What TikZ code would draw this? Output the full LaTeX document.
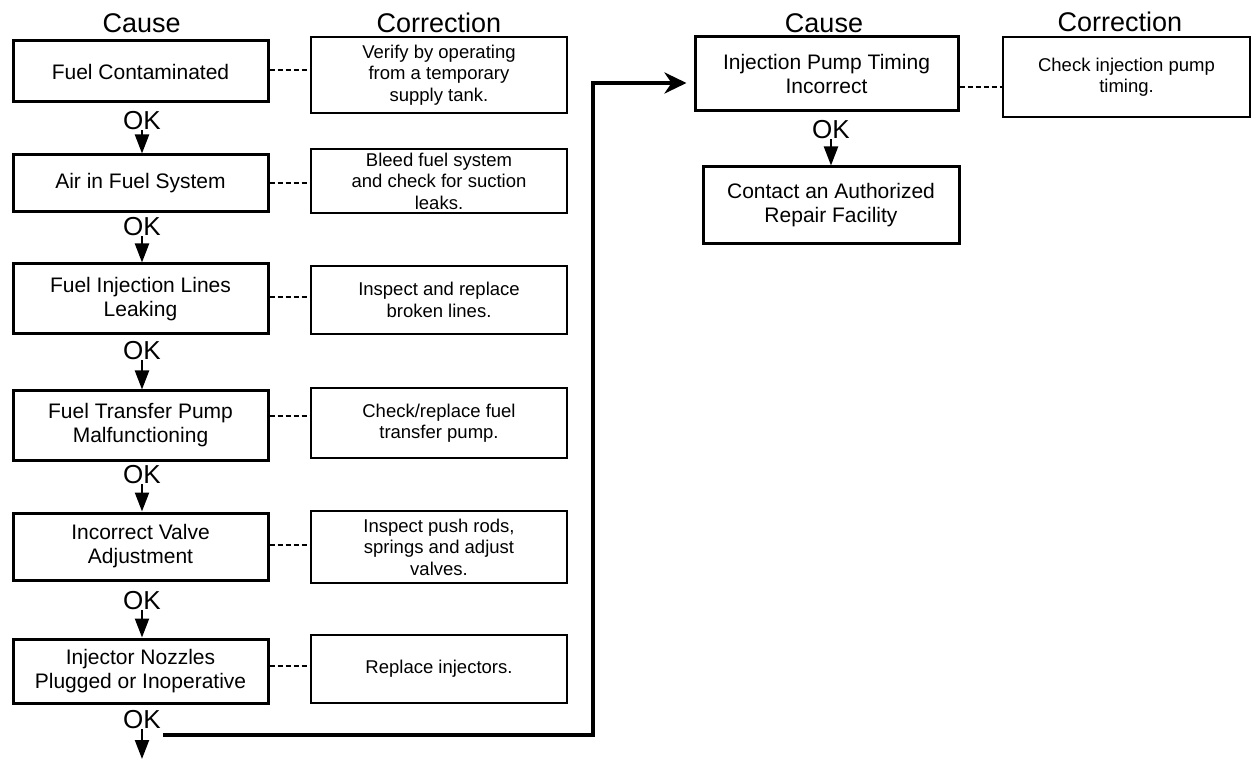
\documentclass[tikz,border=0pt]{standalone}
\usepackage{fontspec}
\setmainfont{Liberation Sans}
\usetikzlibrary{arrows.meta}
\begin{document}
\begin{tikzpicture}[x=1pt,y=-1pt,
 causebox/.style={draw, line width=3pt, inner sep=0pt, align=center, font=\fontsize{21}{24}\selectfont},
 corrbox/.style={draw, line width=2.5pt, inner sep=0pt, align=center, minimum width=256pt, font=\fontsize{18.5}{21.5}\selectfont},
 headlbl/.style={font=\fontsize{27}{30}\selectfont, inner sep=0pt},
 oklabel/.style={font=\fontsize{26}{28}\selectfont, inner sep=0pt},
 okarrow/.style={line width=2.2pt, -{Triangle[length=19pt,width=14pt]}},
 link/.style={line width=1.9pt, dash pattern=on 5pt off 3pt},
 mainline/.style={line width=4pt, line join=miter, -{Stealth[length=22pt,width=21pt,inset=7pt]}},
]
\useasboundingbox (0,0) rectangle (1251,759);
\fill[white] (0,0) rectangle (1251,759);

% headers
\node[headlbl] (h1) at (141.7,23) {Cause};
\node[headlbl] (h2) at (439,23) {Correction};
\node[headlbl] (h3) at (824,23) {Cause};
\node[headlbl] (h4) at (1120,22) {Correction};

% cause boxes
\node[causebox, minimum width=255pt, minimum height=61pt] (b1) at (140.5,71.5) {Fuel Contaminated};
\node[causebox, minimum width=255pt, minimum height=57pt] (b2) at (140.5,183.5) {Air in Fuel System};
\node[causebox, minimum width=255pt, minimum height=70pt] (b3) at (140.5,299) {Fuel Injection Lines\\Leaking};
\node[causebox, minimum width=255pt, minimum height=69pt] (b4) at (140.5,425.5) {Fuel Transfer Pump\\Malfunctioning};
\node[causebox, minimum width=255pt, minimum height=67pt] (b5) at (140.5,546.5) {Incorrect Valve\\Adjustment};
\node[causebox, minimum width=255pt, minimum height=64pt] (b6) at (140.5,671) {Injector Nozzles\\Plugged or Inoperative};
\node[causebox, minimum width=263pt, minimum height=74pt] (b7) at (826.5,74) {Injection Pump Timing\\Incorrect};
\node[causebox, minimum width=256pt, minimum height=77pt] (b8) at (831,205.5) {Contact an Authorized\\Repair Facility};

% correction boxes
\node[corrbox, minimum height=76pt] (r1) at (439,75) {Verify by operating\\from a temporary\\supply tank.};
\node[corrbox, minimum height=64pt] (r2) at (439,181) {Bleed fuel system\\and check for suction\\leaks.};
\node[corrbox, minimum height=68pt] (r3) at (439,300) {Inspect and replace\\broken lines.};
\node[corrbox, minimum height=70pt] (r4) at (439,423) {Check/replace fuel\\transfer pump.};
\node[corrbox, minimum height=72pt] (r5) at (439,547) {Inspect push rods,\\springs and adjust\\valves.};
\node[corrbox, minimum height=68pt] (r6) at (439,669) {Replace injectors.};
\node[corrbox, minimum width=247pt, minimum height=80pt] (r7) at (1126.5,77) {Check injection pump\\timing.};

% dashed links
\path ([yshift=1.5pt]b1.east) coordinate (d1);
\path ([yshift=0.5pt]b2.east) coordinate (d2);
\path ([yshift=2pt]b3.east) coordinate (d3);
\path ([yshift=9.5pt]b4.east) coordinate (d4);
\path ([yshift=1.5pt]b5.east) coordinate (d5);
\path ([yshift=5pt]b6.east) coordinate (d6);
\path ([yshift=-13pt]b7.east) coordinate (d7);
\draw[link] (d1) -- (d1 -| r1.west);
\draw[link] (d2) -- (d2 -| r2.west);
\draw[link] (d3) -- (d3 -| r3.west);
\draw[link] (d4) -- (d4 -| r4.west);
\draw[link] (d5) -- (d5 -| r5.west);
\draw[link] (d6) -- (d6 -| r6.west);
\draw[link] (d7) -- (d7 -| r7.west);

% OK labels
\node[oklabel] (ok1) at (142,121) {OK};
\node[oklabel] (ok2) at (142,227) {OK};
\node[oklabel] (ok3) at (142,351) {OK};
\node[oklabel] (ok4) at (142,475) {OK};
\node[oklabel] (ok5) at (142,601) {OK};
\node[oklabel] (ok6) at (142,720) {OK};
\node[oklabel] (ok7) at (831,130) {OK};

% OK arrows
\draw[okarrow] (ok1.south) -- (ok1.south |- b2.north);
\draw[okarrow] (ok2.south) -- (ok2.south |- b3.north);
\draw[okarrow] (ok3.south) -- (ok3.south |- b4.north);
\draw[okarrow] (ok4.south) -- (ok4.south |- b5.north);
\draw[okarrow] (ok5.south) -- (ok5.south |- b6.north);
\draw[okarrow] (ok7.south) -- (ok7.south |- b8.north);
\coordinate (endpt) at (142,759);
\draw[okarrow] (ok6.south) -- (endpt);

% main connector
\coordinate (ts) at (163,735);
\coordinate (tc) at (593,83);
\draw[mainline, shorten >=7pt] (ts) -| (tc) -- (tc -| b7.west);
\end{tikzpicture}
\end{document}
